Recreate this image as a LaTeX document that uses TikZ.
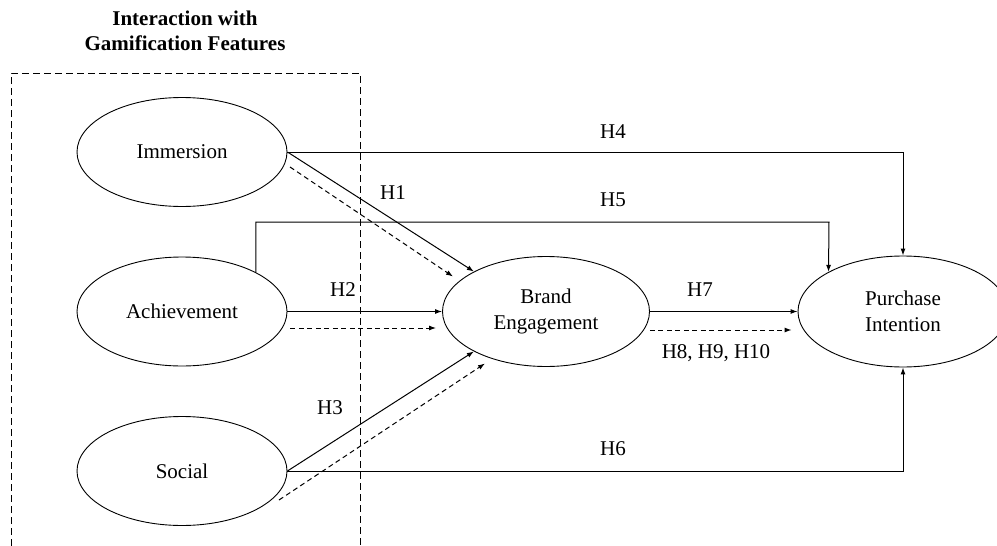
\documentclass[tikz,border=0pt]{standalone}
\usepackage{fontspec}
\setmainfont{Liberation Serif}
\usetikzlibrary{arrows.meta,calc,shapes.geometric}
\begin{document}
\begin{tikzpicture}[x=1pt,y=-1pt,
  every node/.style={font=\fontsize{21}{26}\selectfont},
  latent/.style={draw, ellipse, line width=0.9pt, minimum width=210pt, minimum height=109pt, inner sep=0pt, align=center},
  lbl/.style={inner sep=0pt},
  arr/.style={line width=1pt, -{Latex[length=7pt,width=5pt]}},
  darr/.style={line width=1pt, dash pattern=on 5pt off 3.5pt, -{Latex[length=7pt,width=5pt]}},
  boxline/.style={line width=0.9pt, dash pattern=on 7pt off 4pt}]
\useasboundingbox (0,0) rectangle (997,546);

% group title and dashed frame
\node[align=center, font=\fontsize{21}{25}\selectfont\bfseries] (title) at (185,30.5) {Interaction with\\Gamification Features};
\coordinate (fbl) at (11,546);
\coordinate (ftl) at (11,73);
\coordinate (ftr) at (360,73);
\coordinate (fbr) at (360,546);
\draw[boxline] (fbl) -- (ftl) -- (ftr) -- (fbr);

% constructs
\node[latent] (imm) at (182,152) {Immersion};
\node[latent] (ach) at (182,311.5) {Achievement};
\node[latent] (soc) at (182,471) {Social};
\node[latent, minimum width=207pt, minimum height=110pt] (be) at (546,311.5) {Brand\\Engagement};
\node[latent, minimum height=111pt] (pi) at (903,311.5) {Purchase\\Intention};

% direct paths to brand engagement
\draw[arr] (imm.east) -- (be.151);
\draw[darr] ($(imm.center)+(108,15)$) -- ($(be.center)+(-93,-35)$);
\draw[arr] (ach.east) -- (be.west);
\draw[darr] ($(ach.east)+(3,16.5)$) -- ($(be.west)+(-6,16.5)$);
\draw[arr] (soc.east) -- (be.209);
\draw[darr] ($(soc.center)+(97,29)$) -- ($(be.center)+(-61,52)$);

% brand engagement to purchase intention
\draw[arr] (be.east) -- (pi.west);
\draw[darr] ($(be.east)+(0,18.5)$) -- ($(pi.west)+(-6,18.5)$);

% direct paths to purchase intention
\draw[arr] (imm.east) -| (pi.north);
\coordinate (h5c) at (829,222);
\draw[arr] (ach.28.2) |- (h5c) -- (pi.152.2);
\draw[arr] (soc.east) -| (pi.south);

% hypothesis labels
\node[lbl] (h1) at (393,193) {H1};
\node[lbl] (h2) at (343,290) {H2};
\node[lbl] (h3) at (330,408) {H3};
\node[lbl] (h4) at (613,132) {H4};
\node[lbl] (h5) at (613,200) {H5};
\node[lbl] (h6) at (613,449) {H6};
\node[lbl] (h7) at (700,290) {H7};
\node[lbl] (h8) at (716,353) {H8, H9, H10};
\end{tikzpicture}
\end{document}
